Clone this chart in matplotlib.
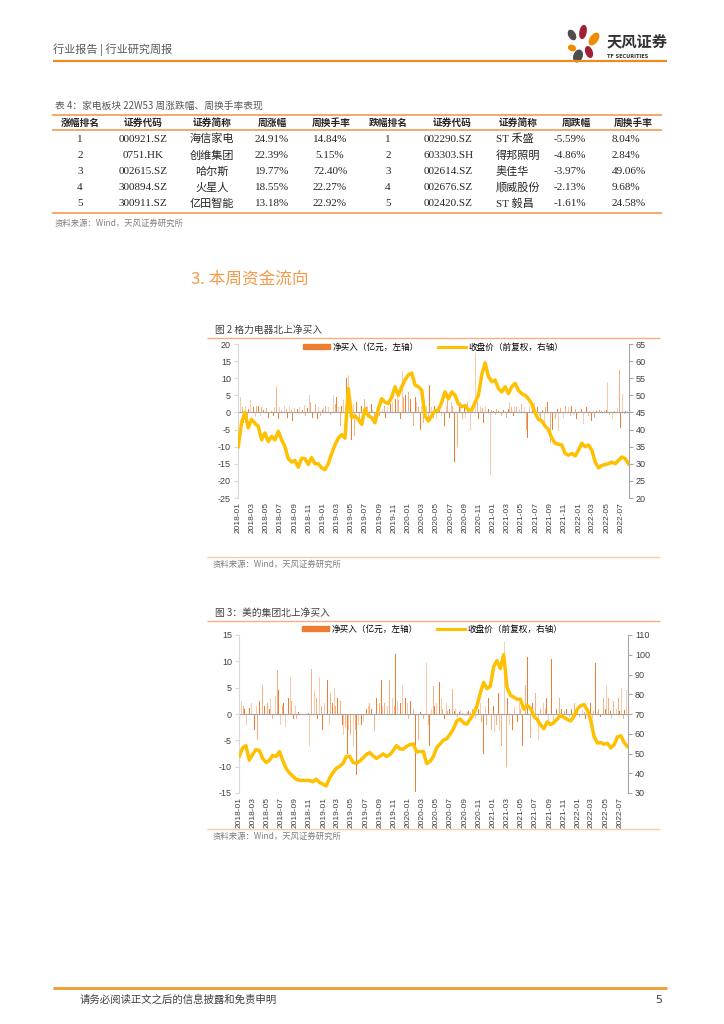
import numpy as np
import pandas as pd
import matplotlib
matplotlib.use("Agg")
import matplotlib.pyplot as plt
import matplotlib.dates as mdates
from matplotlib.lines import Line2D
from matplotlib.patches import Patch, Ellipse

plt.rcParams['font.family'] = ['Noto Sans CJK SC', 'DejaVu Sans']
plt.rcParams['axes.unicode_minus'] = False

# ---- table 4 data ----
gain_rank = [1, 2, 3, 4, 5]
gain_code = ['000921.SZ', '0751.HK', '002615.SZ', '300894.SZ', '300911.SZ']
gain_name = ['海信家电', '创维集团', '哈尔斯', '火星人', '亿田智能']
gain_pct = [24.91, 22.39, 19.77, 18.55, 13.18]
gain_turn = [14.84, 5.15, 72.40, 22.27, 22.92]
loss_rank = [1, 2, 3, 4, 5]
loss_code = ['002290.SZ', '603303.SH', '002614.SZ', '002676.SZ', '002420.SZ']
loss_name = ['ST 禾盛', '得邦照明', '奥佳华', '顺威股份', 'ST 毅昌']
loss_pct = [-5.59, -4.86, -3.97, -2.13, -1.61]
loss_turn = [8.04, 2.84, 49.06, 9.68, 24.58]

# ---- fig 2: Gree, weekly net buy (亿元) and close price (semi-monthly) ----
gree_flow = [
    9, 4.5, 1.5, -3, 2, -1.5, 1, 3.5, -1, 1.5, -1.2, 2,
    2, -1, 1.5, 0.8, -23.5, 1.2, -1.5, 1, 0.5, -1, 1.5, 7.5,
    -2, 1.5, 0.8, -1.2, 2, 1, -1.5, 1.8, 0.6, -2.5, 1.2, -2,
    1, 1.5, -1.5, 0.8, 2.2, -1, 1.2, 5, 3, -1.5, 1, 2.5,
    -2, 1.5, -1, 0.6, 1.2, 2, 4, 1.5, -0.8, 3, 5, 2.5,
    4.5, 1.5, -4, 2, 3.5, 1.2, 10, 11, -3, -8, 2.5, -7,
    3, 1.5, -3, 2, -2.5, 4, 1.5, 2, -1.5, 2.5, 1, -2,
    1.5, 2, -1, 5.5, 1, 2, -1.5, 1.5, -4, 2.5, 3, 15.3,
    4, 5, 3.5, -2, 12, 4.5, 5, 3.5, 6, 4, 3, -4,
    4.5, 3, 1.5, -5, 2, -3, -8, 2, -2, 8, 1.5, -1.5,
    2, -2, 1.5, 2.5, -1, 3, -4, 2, 5, -1.5, 3, 2,
    -14.5, 14, -10, 1.5, 3, -2, 2.5, -1.5, 3, 1, -5, 2,
    1.5, 17.3, 3, -2, 2, 1.2, -3, 2, -6.5, 1, -18.3, 0.8,
    0.5, -0.8, 1, 0.5, 1.2, -1, 0.8, 2, -1.5, 1, 3, 1.5,
    -1, 2, 1.5, -2, 1, 2.5, 9.5, 1.5, -5, -7.5, 2, -1.5,
    1, 3, -2, 1.5, -1, -2.5, 0.8, -3, 1.5, 3, -6, -9,
    -5, 1.5, -2, 1, -5.5, 1.2, -16, -1.5, 2, -10, 1.5, -1,
    2, -0.8, 1, -2, 0.5, 2.5, 1, -3.5, 0.5, 1.5, -1, 0.5,
    -2.5, 0.5, -1.5, 0.3, -0.5, 0.8, 0.3, -0.5, 0.4, 0.6, 9, -0.8,
    0.5, -2, 0.4, -0.6, 1.2, 12.4, -4.5, 5.5, -0.5, 0.3, 0.2,
]
gree_price = [
    35, 42, 45, 40.5, 43, 41.8, 41, 37, 39, 36.5, 38, 37,
    39.5, 37, 35, 31.5, 30.5, 31, 29, 31.6, 31.5, 29.8, 31.8, 30,
    30, 28.8, 28.3, 30, 33, 35.5, 37.5, 38.5, 37.5, 52, 43.5, 44,
    43, 41.5, 46, 44, 43.5, 42, 46, 49, 48, 47.6, 49.5, 52.5,
    50, 52.5, 54.5, 56, 56.5, 53, 52.5, 51.5, 44, 42.5, 44, 45.5,
    45.7, 48, 51, 49, 51, 50, 47.5, 46.7, 47, 45.7, 45.7, 48,
    50, 56, 59.5, 55.5, 54, 54.5, 52, 51, 52.5, 50.5, 52.5, 53.5,
    51.5, 50.5, 50, 49, 47.5, 44.8, 43, 42.5, 41, 40, 37.5, 36,
    35.7, 35.5, 33, 32.5, 33, 32.3, 34, 36, 35, 35.5, 34, 30.5,
    28.8, 29.5, 29.8, 30, 30.5, 30, 31, 32, 31.5, 30,
]

# ---- fig 3: Midea ----
midea_flow = [
    4, 2.5, 1.5, 1, -2, -5.5, 1.2, 2, 1, -3, 1.5, -5,
    2.5, 1.2, 5.5, 1.5, 6, 2, 1, 3, -1, 1.5, 3.5, 8.3,
    4.5, -2, 1.5, 2, -2.5, 1, 3, 7, 2.5, -1, 1.5, -1,
    0.3, 0, 0, 0, 0, 0, 0.2, -6, 8.5, 2, 4.5, 3,
    -1, 7, 1.5, -3, 2, 1, 6.5, -2, 4, 2, 5, 1.5,
    3, -1, 2.5, -2, -4, -2.5, -7.5, -3, -4, 2, -6, -3,
    -11.5, -2, 1, -2, -1.5, -1, 1, 1.5, 2, 1, -1, -3.2,
    3, 1.5, 2, 6.5, 1.5, 2, -3, 1.5, 6.4, 2, 3, 1.5,
    11.4, 2.5, 4, 2, 5.5, 1.5, 3, 2, -1, 2.5, 5.6, 1,
    -14.8, 0.5, -5, 0.3, 0, -1, 0.2, 9.6, -2, -6, 1, 5.4,
    1.5, 2, 1, 6.1, 3, 1, -1, 2, 0.5, 1, 0.5, 4.8,
    0.5, 1, -0.5, 0.3, 0.8, 0.2, 0.5, -0.3, 0.4, 0.6, 0.3, 1,
    0.5, -1, 0.8, 1, 2, -1.5, -7.5, 1.5, -2, 3, -1, -3,
    1.5, -3.5, -2, 4, -3, -6, 2, 13.7, -10, 3, -2, 2,
    -3, 1.5, 3, -1.5, 2, 1, -6.1, 2, 5.5, 10.8, 1.5, -4.5,
    2, -1, 4, 1.5, -5, 1, -8.7, 2, 1, 3, -1.5, 1,
    10.5, -2, 1.5, 1, -1, 3, 1, -15.2, 0.5, 1, 3, -0.5,
    1, -1, 2, 0.5, 1, -0.5, 2.5, 0.8, 0.3, -1, 0.5, 1,
    2, -1, 0.5, 9.7, 0.3, 1, -0.5, 0.8, 3, 1, 5.5, 3,
    0.5, -1, 2.5, -2, 1, 3, 0.5, 5, -1, 0.8, 4.5, -0.5,
]
midea_price = [
    48.6, 52.8, 54, 46.6, 49.5, 52, 51.5, 47.5, 45.5, 46.5, 49, 48.5,
    51, 46.5, 42.5, 40.2, 38.5, 37, 36.4, 36.4, 36.4, 36.3, 35.7, 37,
    35.3, 34.5, 33.6, 37.6, 40.3, 42.5, 43.5, 45, 48.5, 48.5, 45.5, 45,
    46.2, 47.8, 49.5, 50.5, 48.8, 47.5, 48.6, 49.8, 48.5, 49.4, 51.5, 54,
    52.3, 52.2, 53.6, 54.5, 54.8, 50.8, 51, 51, 44.9, 46, 48.5, 53,
    54.8, 56.8, 57.5, 59.8, 62.5, 66.5, 67.5, 65.5, 64.8, 67.5, 70, 74,
    80.5, 86, 82.8, 84, 94, 97, 93, 100, 83.5, 79.5, 78.5, 77.5,
    77.5, 72.5, 74.3, 73, 69, 67.3, 64.5, 62.5, 66, 64.6, 65.7, 67.5,
    69.3, 68.3, 67.3, 66.5, 68.8, 72.5, 74.2, 74.8, 72, 67, 58.5, 55.3,
    55.5, 54.7, 55.2, 52.8, 54.5, 58.4, 59, 55.5, 53.5,
]

legend_labels = ['净买入（亿元，左轴）', '收盘价（前复权，右轴）']
source_text = '资料来源：Wind，天风证券研究所'

W, H = 724, 1024
fig = plt.figure(figsize=(W / 100, H / 100), dpi=100)


def fx(x):
    return x / W


def fy(y):
    return 1 - y / H


def hline(x0, x1, y, color, lw):
    fig.add_artist(Line2D([fx(x0), fx(x1)], [fy(y), fy(y)], transform=fig.transFigure,
                          color=color, lw=lw, solid_capstyle='butt'))


def txt(x, y, s, size, color='#333333', ha='left', family=None, weight='normal'):
    kw = {}
    if family is not None:
        kw['family'] = family
    fig.text(fx(x), fy(y), s, fontsize=size, color=color, ha=ha, va='center',
             fontweight=weight, **kw)


serif = ['Liberation Serif', 'Noto Sans CJK SC']
sans = ['Liberation Sans', 'Noto Sans CJK SC']

# header
txt(53, 50, '行业报告 | 行业研究周报', 8, '#595959')
hline(53, 667, 61, '#F08C1E', 1.6)
txt(607, 41, '天风证券', 11, '#333333', weight='bold')
txt(607, 56, 'TF SECURITIES', 3.6, '#333333', family='DejaVu Sans', weight='bold')

logo = fig.add_axes([fx(565), fy(63), fx(37), 39 / H])
logo.set_xlim(0, 37)
logo.set_ylim(39, 0)
logo.axis('off')
for (cx, cy, w, h, a, c) in [(7, 11, 6, 10, -30, '#4D4D4D'), (18, 8, 6, 13, 10, '#A31F34'),
                             (29, 15, 7, 13, 35, '#F08A00'), (7, 24, 7, 5, 20, '#F08A00'),
                             (24, 28, 6, 11, -20, '#A31F34'), (13, 32, 8, 12, 20, '#4D4D4D')]:
    logo.add_patch(Ellipse((cx, cy), w, h, angle=a, color=c))

# table 4
txt(55, 106, '表 4：家电板块 22W53 周涨跌幅、周换手率表现', 7, '#595959')
tcol = '#F4A261'
hline(52, 662, 115, tcol, 1.3)
hline(52, 662, 130, tcol, 1.3)
hline(52, 662, 213, tcol, 1.3)
heads = [('涨幅排名', 80), ('证券代码', 143), ('证券简称', 212), ('周涨幅', 272), ('周换手率', 331),
         ('跌幅排名', 388), ('证券代码', 452), ('证券简称', 518), ('周跌幅', 576), ('周换手率', 633)]
for s, x in heads:
    txt(x, 123, s, 7, '#262626', ha='center', weight='bold')
row_y = [139, 155.5, 171.5, 187.5, 203.5]
for i in range(5):
    y = row_y[i]
    txt(80, y, str(gain_rank[i]), 8, '#262626', 'center', serif)
    txt(143, y, gain_code[i], 8, '#262626', 'center', serif)
    txt(212, y, gain_name[i], 8, '#262626', 'center', serif)
    txt(272, y, f'{gain_pct[i]:.2f}%', 8, '#262626', 'center', serif)
    txt(330, y, f'{gain_turn[i]:.2f}%', 8, '#262626', 'center', serif)
    txt(388, y, str(loss_rank[i]), 8, '#262626', 'center', serif)
    txt(424, y, loss_code[i], 8, '#262626', 'left', serif)
    txt(496, y, loss_name[i], 8, '#262626', 'left', serif)
    txt(554, y, f'{loss_pct[i]:.2f}%', 8, '#262626', 'left', serif)
    txt(612, y, f'{loss_turn[i]:.2f}%', 8, '#262626', 'left', serif)
txt(55, 223, source_text, 6, '#7F7F7F')

# section heading
txt(191, 279, '3. 本周资金流向', 12, '#F39A4B')

bar_colors = ['#ED7D31', '#F8CBAD', '#F4B183']


def draw_chart(title, title_y, rect, flow, price, left_lim, left_step, right_lim, right_step,
               legend_xy, sep_y):
    txt(215, title_y, title, 7, '#404040')
    hline(207, 660, title_y + 8, '#F4B183', 1.0)
    ax = fig.add_axes(rect)
    flow_dates = pd.date_range('2018-01-05', periods=len(flow), freq='7D')
    price_dates = pd.date_range('2018-01-02', '2022-08-03', periods=len(price))
    cols = [bar_colors[i % 3] for i in range(len(flow))]
    ax.bar(flow_dates, flow, width=3.5, color=cols, linewidth=0)
    ax.axhline(0, color='#A6A6A6', lw=0.9)
    ax.set_ylim(*left_lim)
    ax.set_yticks(np.arange(left_lim[0], left_lim[1] + 0.1, left_step))
    ax.set_xlim(pd.Timestamp('2018-01-01'), pd.Timestamp('2022-08-05'))
    ax.xaxis.set_major_locator(mdates.MonthLocator(bymonth=[1, 3, 5, 7, 9, 11]))
    ax.xaxis.set_major_formatter(mdates.DateFormatter('%Y-%m'))
    for s in ['top', 'bottom', 'right']:
        ax.spines[s].set_visible(False)
    ax.spines['left'].set_color('#D9D9D9')
    ax.tick_params(axis='x', length=0, pad=3, labelsize=6, labelcolor='#404040', rotation=90)
    ax.tick_params(axis='y', length=3, color='#D9D9D9', labelsize=6.5, labelcolor='#404040', pad=2)
    for lab in ax.get_xticklabels() + ax.get_yticklabels():
        lab.set_family(sans)

    ax2 = ax.twinx()
    ax2.plot(price_dates, price, color='#FFC000', lw=2.5, solid_joinstyle='round')
    ax2.set_ylim(*right_lim)
    ax2.set_yticks(np.arange(right_lim[0], right_lim[1] + 0.1, right_step))
    for s in ['top', 'bottom', 'left']:
        ax2.spines[s].set_visible(False)
    ax2.spines['right'].set_color('#A6A6A6')
    ax2.tick_params(axis='y', length=3, color='#A6A6A6', labelsize=6.5, labelcolor='#404040', pad=2)
    for lab in ax2.get_yticklabels():
        lab.set_family(sans)

    handles = [Patch(color='#ED7D31'), Line2D([0], [0], color='#FFC000', lw=2.2)]
    fig.legend(handles, legend_labels, loc='center', bbox_to_anchor=(fx(legend_xy[0]), fy(legend_xy[1])),
               ncol=2, frameon=False, prop={'family': ['Noto Sans CJK SC', 'DejaVu Sans'], 'size': 6.2},
               handlelength=3.2, handleheight=0.5, columnspacing=2.2, handletextpad=0.3)
    hline(207, 660, sep_y, '#F8CBAD', 1.0)
    txt(213, sep_y + 7, source_text, 6, '#7F7F7F')


draw_chart('图 2 格力电器北上净买入', 330,
           [fx(238), fy(498), (629 - 238) / W, (498 - 344) / H],
           gree_flow, gree_price, (-25, 20), 5, (20, 65), 5, (433, 347), 557)
draw_chart('图 3：美的集团北上净买入', 613,
           [fx(239), fy(793), (628 - 239) / W, (793 - 635) / H],
           midea_flow, midea_price, (-15, 15), 5, (30, 110), 10, (432, 629), 829)

# footer
hline(53, 667, 988, '#F29B30', 2.0)
txt(80, 1000, '请务必阅读正文之后的信息披露和免责申明', 7.5, '#404040')
txt(662, 1000, '5', 8, '#404040', ha='right', family='DejaVu Sans')

fig.savefig('out.png', dpi=100)
